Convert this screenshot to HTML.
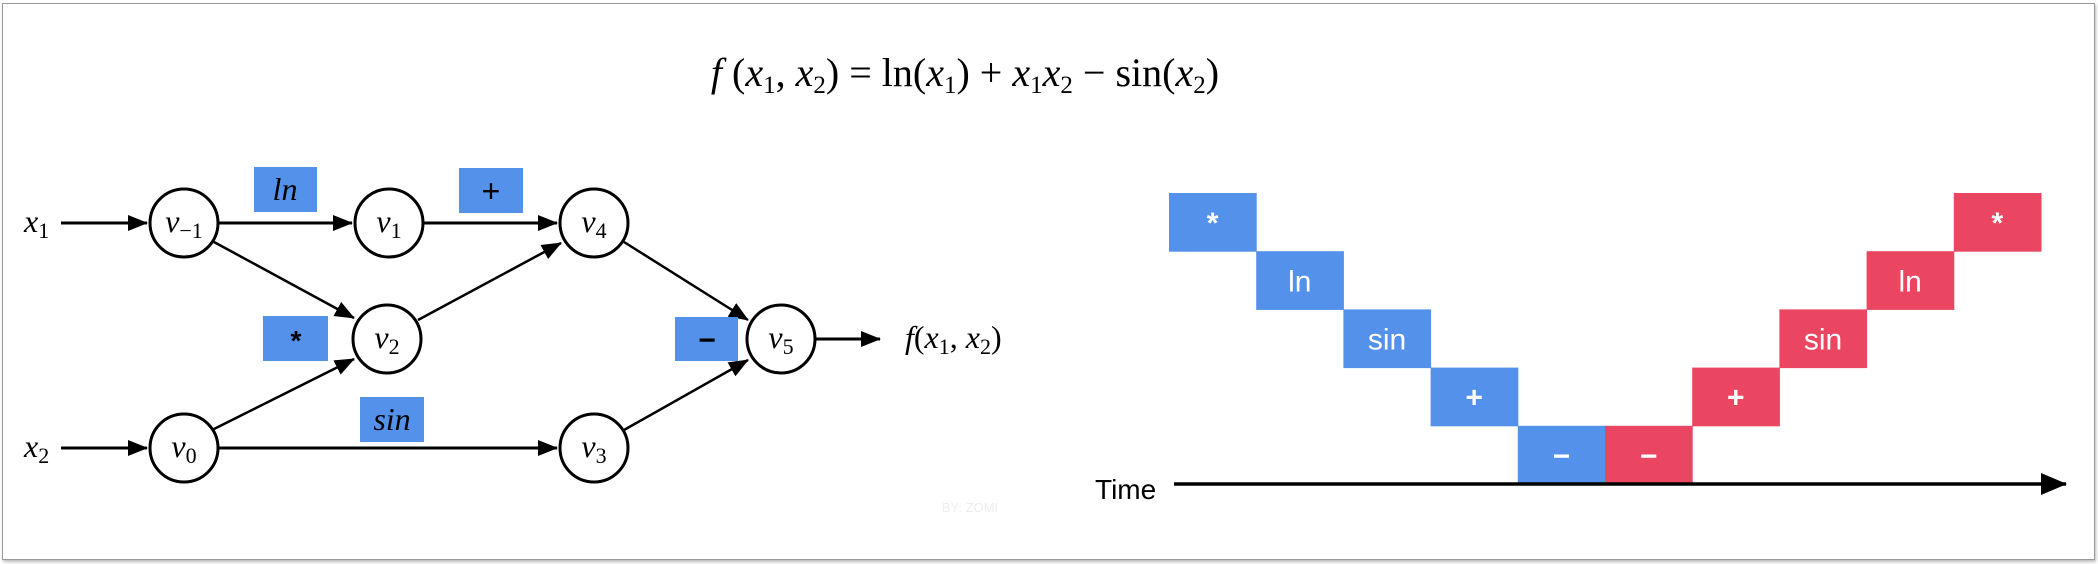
<!DOCTYPE html>
<html><head><meta charset="utf-8">
<style>
html,body{margin:0;padding:0;background:#fff;}
body{width:2098px;height:564px;overflow:hidden;position:relative;font-family:"Liberation Sans",sans-serif;}
#frame{position:absolute;left:2px;top:3px;width:2091px;height:555px;border:1px solid #9a9a9a;box-shadow:1px 2px 3px #bbb;background:#fff;}
svg{position:absolute;left:0;top:0;}
.m{font-family:"Liberation Serif",serif;font-style:italic;}
</style></head>
<body>
<div id="frame"></div>
<svg width="2098" height="564" viewBox="0 0 2098 564">
<defs>
<marker id="ah2" markerWidth="20" markerHeight="16" refX="19" refY="8" orient="auto" markerUnits="userSpaceOnUse"><path d="M0,0 L20,8 L0,16 z" fill="#000"/></marker>
<marker id="ah3" markerWidth="26" markerHeight="22" refX="25" refY="11" orient="auto" markerUnits="userSpaceOnUse"><path d="M0,0 L26,11 L0,22 z" fill="#000"/></marker>
</defs>
<text x="965" y="86" text-anchor="middle" font-size="40" font-family="Liberation Serif, serif"><tspan font-style="italic">f</tspan> (<tspan font-style="italic">x</tspan><tspan font-size="25" dy="7">1</tspan><tspan dy="-7">, </tspan><tspan font-style="italic">x</tspan><tspan font-size="25" dy="7">2</tspan><tspan dy="-7">) = ln(</tspan><tspan font-style="italic">x</tspan><tspan font-size="25" dy="7">1</tspan><tspan dy="-7">) + </tspan><tspan font-style="italic">x</tspan><tspan font-size="25" dy="7">1</tspan><tspan dy="-7" font-style="italic">x</tspan><tspan font-size="25" dy="7">2</tspan><tspan dy="-7"> − sin(</tspan><tspan font-style="italic">x</tspan><tspan font-size="25" dy="7">2</tspan><tspan dy="-7">)</tspan></text>

<g stroke="#000" stroke-width="3" fill="none">
<line x1="61" y1="223" x2="147" y2="223" marker-end="url(#ah2)"/>
<line x1="61" y1="448" x2="147" y2="448" marker-end="url(#ah2)"/>
<line x1="219" y1="223" x2="352" y2="223" marker-end="url(#ah2)"/>
<line x1="424" y1="223" x2="557" y2="223" marker-end="url(#ah2)"/>
<line x1="214" y1="242" x2="354" y2="318" stroke-width="2.5" marker-end="url(#ah2)"/>
<line x1="214" y1="429" x2="354" y2="359" stroke-width="2.5" marker-end="url(#ah2)"/>
<line x1="418" y1="320" x2="561" y2="243" stroke-width="2.5" marker-end="url(#ah2)"/>
<line x1="219" y1="448" x2="557" y2="448" marker-end="url(#ah2)"/>
<line x1="624" y1="242" x2="748" y2="320" stroke-width="2.5" marker-end="url(#ah2)"/>
<line x1="624" y1="430" x2="748" y2="360" stroke-width="2.5" marker-end="url(#ah2)"/>
<line x1="816" y1="339" x2="880" y2="339" marker-end="url(#ah2)"/>
</g>

<g>
<rect x="254" y="167" width="63" height="45" fill="#5391EA"/>
<text x="285" y="200" text-anchor="middle" font-size="32" class="m">ln</text>
<rect x="459" y="168" width="64" height="45" fill="#5391EA"/>
<text x="491" y="202" text-anchor="middle" font-size="32">+</text>
<rect x="263" y="316" width="65" height="45" fill="#5391EA"/>
<text x="296" y="350" text-anchor="middle" font-size="28" font-weight="bold">*</text>
<rect x="360" y="397" width="64" height="45" fill="#5391EA"/>
<text x="392" y="430" text-anchor="middle" font-size="32" class="m">sin</text>
<rect x="675" y="317" width="63" height="44" fill="#5391EA"/>
<text x="707" y="350" text-anchor="middle" font-size="30" font-weight="bold">−</text>
</g>

<g font-size="32" font-family="Liberation Serif, serif">
<g><circle cx="184" cy="223" r="34" fill="#fff" stroke="#000" stroke-width="3"/><text x="184" y="232" text-anchor="middle"><tspan font-style="italic">v</tspan><tspan font-size="22" dy="6">−1</tspan></text></g>
<g><circle cx="389" cy="223" r="34" fill="#fff" stroke="#000" stroke-width="3"/><text x="389" y="232" text-anchor="middle"><tspan font-style="italic">v</tspan><tspan font-size="22" dy="6">1</tspan></text></g>
<g><circle cx="594" cy="223" r="34" fill="#fff" stroke="#000" stroke-width="3"/><text x="594" y="232" text-anchor="middle"><tspan font-style="italic">v</tspan><tspan font-size="22" dy="6">4</tspan></text></g>
<g><circle cx="387" cy="339" r="34" fill="#fff" stroke="#000" stroke-width="3"/><text x="387" y="348" text-anchor="middle"><tspan font-style="italic">v</tspan><tspan font-size="22" dy="6">2</tspan></text></g>
<g><circle cx="184" cy="448" r="34" fill="#fff" stroke="#000" stroke-width="3"/><text x="184" y="457" text-anchor="middle"><tspan font-style="italic">v</tspan><tspan font-size="22" dy="6">0</tspan></text></g>
<g><circle cx="594" cy="448" r="34" fill="#fff" stroke="#000" stroke-width="3"/><text x="594" y="457" text-anchor="middle"><tspan font-style="italic">v</tspan><tspan font-size="22" dy="6">3</tspan></text></g>
<g><circle cx="781" cy="339" r="34" fill="#fff" stroke="#000" stroke-width="3"/><text x="781" y="348" text-anchor="middle"><tspan font-style="italic">v</tspan><tspan font-size="22" dy="6">5</tspan></text></g>
<text x="24" y="232"><tspan font-style="italic">x</tspan><tspan font-size="22" dy="6">1</tspan></text>
<text x="24" y="457"><tspan font-style="italic">x</tspan><tspan font-size="22" dy="6">2</tspan></text>
<text x="905" y="348"><tspan font-style="italic">f</tspan>(<tspan font-style="italic">x</tspan><tspan font-size="22" dy="6">1</tspan><tspan dy="-6">, </tspan><tspan font-style="italic">x</tspan><tspan font-size="22" dy="6">2</tspan><tspan dy="-6">)</tspan></text>
</g>
<text x="970" y="512" text-anchor="middle" font-size="13" fill="#eeeeee">BY: ZOMI</text>

<g id="timeline"></g>
<line x1="1174" y1="484" x2="2066" y2="484" stroke="#000" stroke-width="3.5" marker-end="url(#ah3)"/>
<text x="1095" y="499" font-size="28">Time</text>
</svg>
<script>
const ops = ['*','ln','sin','+','−','−','+','sin','ln','*'];
const steps = [0,1,2,3,4,4,3,2,1,0];
const phases = ['fwd','fwd','fwd','fwd','fwd','bwd','bwd','bwd','bwd','bwd'];
const x0 = 1169, colW = 87.2, rowH = 58.2, y0 = 193;
const xs = i => x0 + i*colW;
const ys = s => y0 + s*rowH;
const g = document.getElementById('timeline');
const NS = 'http://www.w3.org/2000/svg';
ops.forEach((op,i)=>{
  const grp = document.createElementNS(NS,'g');
  
  
  const r = document.createElementNS(NS,'rect');
  r.setAttribute('x', xs(i)); r.setAttribute('y', ys(steps[i]));
  r.setAttribute('width', colW+0.5); r.setAttribute('height', rowH+0.5);
  r.setAttribute('fill', phases[i]==='fwd' ? '#5391EA' : '#EA4662');
  const t = document.createElementNS(NS,'text');
  t.setAttribute('x', xs(i)+colW/2); t.setAttribute('y', ys(steps[i])+rowH/2+11);
  t.setAttribute('text-anchor','middle'); t.setAttribute('fill','#fff');
  t.setAttribute('font-size', 30);
  t.setAttribute('font-weight', (op==='*'||op==='−'||op==='+') ? 'bold' : 'normal');
  t.textContent = op;
  grp.appendChild(r); grp.appendChild(t); g.appendChild(grp);
});
</script>
</body></html>
